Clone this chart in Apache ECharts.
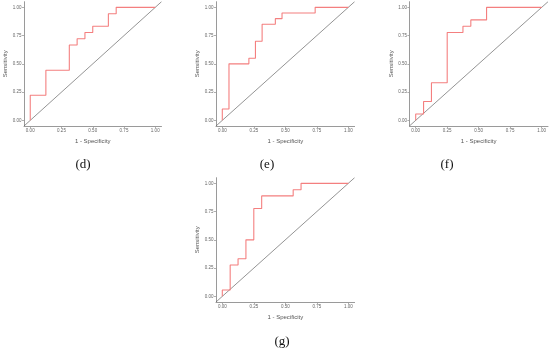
<!DOCTYPE html>
<html>
<head>
<meta charset="utf-8">
<script src="https://cdn.jsdelivr.net/npm/echarts@6/dist/echarts.min.js"></script>
<style>html,body{margin:0;padding:0;background:#fff}#c{width:550px;height:349px}</style>
</head>
<body>
<div id="c"></div>
<script>
// ROC curve vertices (1 - Specificity, Sensitivity) per panel
const fprD = [0, 0, 0.125, 0.125, 0.3125, 0.3125, 0.375, 0.375, 0.4375, 0.4375, 0.5, 0.5, 0.625, 0.625, 0.6875, 0.6875, 1];
const tprD = [0, 0.222, 0.222, 0.444, 0.444, 0.667, 0.667, 0.722, 0.722, 0.778, 0.778, 0.833, 0.833, 0.944, 0.944, 1, 1];
const fprE = [0, 0, 0.053, 0.053, 0.211, 0.211, 0.263, 0.263, 0.316, 0.316, 0.421, 0.421, 0.474, 0.474, 0.737, 0.737, 1];
const tprE = [0, 0.10, 0.10, 0.50, 0.50, 0.55, 0.55, 0.70, 0.70, 0.85, 0.85, 0.90, 0.90, 0.95, 0.95, 1, 1];
const fprF = [0, 0, 0.0625, 0.0625, 0.125, 0.125, 0.25, 0.25, 0.375, 0.375, 0.4375, 0.4375, 0.5625, 0.5625, 1];
const tprF = [0, 0.056, 0.056, 0.167, 0.167, 0.333, 0.333, 0.778, 0.778, 0.833, 0.833, 0.889, 0.889, 1, 1];
const fprG = [0, 0, 0.0625, 0.0625, 0.125, 0.125, 0.1875, 0.1875, 0.25, 0.25, 0.3125, 0.3125, 0.5625, 0.5625, 0.625, 0.625, 1];
const tprG = [0, 0.056, 0.056, 0.278, 0.278, 0.333, 0.333, 0.5, 0.5, 0.778, 0.778, 0.889, 0.889, 0.944, 0.944, 1, 1];
const tickValues = [0, 0.25, 0.5, 0.75, 1];
const tickLabels = ['0.00', '0.25', '0.50', '0.75', '1.00'];
const axisRange = [-0.05, 1.05];
const panelLabels = ['(d)', '(e)', '(f)', '(g)'];
const xTitle = '1 - Specificity';
const yTitle = 'Sensitivity';

const panels = [
  {fpr: fprD, tpr: tprD, grid: {left: 24, top: 1.7, width: 137.5, height: 124.3}, cap: [83, 165]},
  {fpr: fprE, tpr: tprE, grid: {left: 216, top: 1.7, width: 138.6, height: 124.3}, cap: [267, 165]},
  {fpr: fprF, tpr: tprF, grid: {left: 409.4, top: 1.7, width: 138.6, height: 124.3}, cap: [447, 165]},
  {fpr: fprG, tpr: tprG, grid: {left: 216, top: 177.7, width: 138.6, height: 124.3}, cap: [282, 342]}
];

const axisCommon = {
  type: 'value', min: axisRange[0], max: axisRange[1],
  splitLine: {show: false},
  axisLine: {show: true, onZero: false, lineStyle: {color: '#9a9a9a', width: 1}},
  axisTick: {show: true, length: 2, customValues: tickValues, lineStyle: {color: '#9a9a9a', width: 0.8}},
  nameLocation: 'middle',
  nameTextStyle: {color: '#555', fontSize: 6, fontFamily: 'Liberation Sans'}
};
const fmt = v => tickLabels[tickValues.indexOf(Math.round(v * 100) / 100)] || '';

const option = {
  animation: false,
  grid: panels.map(p => Object.assign({containLabel: false}, p.grid)),
  xAxis: panels.map((p, i) => Object.assign({}, axisCommon, {
    gridIndex: i, name: xTitle, nameGap: 12,
    axisLabel: {customValues: tickValues, formatter: fmt, fontSize: 4.5, color: '#666', margin: 2.5, fontFamily: 'Liberation Sans'}
  })),
  yAxis: panels.map((p, i) => Object.assign({}, axisCommon, {
    gridIndex: i, name: yTitle, nameGap: 15,
    axisLabel: {customValues: tickValues, formatter: fmt, fontSize: 4.5, color: '#666', margin: 2.5, fontFamily: 'Liberation Sans'}
  })),
  series: panels.flatMap((p, i) => [
    {type: 'line', xAxisIndex: i, yAxisIndex: i, data: [[axisRange[0], axisRange[0]], [axisRange[1], axisRange[1]]],
     symbol: 'none', silent: true, lineStyle: {color: '#666', width: 0.7}},
    {type: 'line', xAxisIndex: i, yAxisIndex: i, data: p.fpr.map((x, k) => [x, p.tpr[k]]),
     symbol: 'none', lineStyle: {color: '#f47f7f', width: 1.1}}
  ]),
  graphic: panels.map((p, i) => ({
    type: 'text', x: p.cap[0], y: p.cap[1],
    style: {text: panelLabels[i], fontSize: 13, fontFamily: 'Liberation Serif', fill: '#111', align: 'center', verticalAlign: 'middle'}
  }))
};

const chart = echarts.init(document.getElementById('c'), null, {renderer: 'canvas'});
chart.setOption(option);
</script>
</body>
</html>
